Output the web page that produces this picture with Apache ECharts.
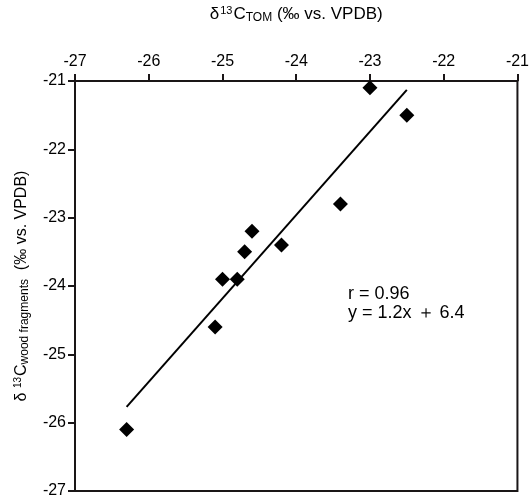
<!DOCTYPE html>
<html>
<head>
<meta charset="utf-8">
<script src="https://cdn.jsdelivr.net/npm/echarts@6/dist/echarts.min.js"></script>
<style>
  html, body { margin: 0; padding: 0; background: #fff; }
  #chart { width: 532px; height: 499px; }
</style>
</head>
<body>
<div id="chart"></div>
<script>
// δ13C TOM (x) vs δ13C wood fragments (y)
const tomValues  = [-23.0, -22.5, -23.4, -24.6, -24.2, -24.7, -25.0, -24.8, -25.1, -26.3];
const woodValues = [-21.1, -21.5, -22.8, -23.2, -23.4, -23.5, -23.9, -23.9, -24.6, -26.1];

// regression line as drawn (end points)
const fitX = [-26.3, -22.5];
const fitY = [-25.77, -21.13];

const axisMin = -27;
const axisMax = -21;
const statLines = ['r = 0.96', 'y = 1.2x \uFF0B 6.4'];

const FONT = '"Liberation Sans Narrow", "Liberation Sans", Arial, sans-serif';
const INK = '#1a1617';

const chart = echarts.init(document.getElementById('chart'), null, { renderer: 'canvas' });

const axisCommon = {
  type: 'value',
  min: axisMin,
  max: axisMax,
  interval: 1,
  splitLine: { show: false },
  axisLine: { show: true, onZero: false, lineStyle: { color: INK, width: 2 } },
  axisTick: { show: true, inside: false, length: 7, lineStyle: { color: INK, width: 2 } },
  axisLabel: { color: '#000', fontFamily: FONT, fontSize: 16 }
};

chart.setOption({
  animation: false,
  backgroundColor: '#fff',
  grid: {
    left: 75, right: 4, top: 77, bottom: 7,
    show: true, borderColor: INK, borderWidth: 2
  },
  xAxis: Object.assign({}, axisCommon, {
    position: 'top',
    axisLabel: Object.assign({}, axisCommon.axisLabel, { margin: 11 }),
    name: '{n|\u03B4}{sup|13}{n|C}{sub|TOM}{n| (\u2030 vs. VPDB)}',
    nameLocation: 'middle',
    nameGap: 57,
    nameTextStyle: {
      rich: {
        n: { fontFamily: FONT, fontSize: 17, color: '#000' },
        sup: { fontFamily: FONT, fontSize: 11, color: '#000', verticalAlign: 'top', padding: [0, 1, 8, 1] },
        sub: { fontFamily: FONT, fontSize: 12, color: '#000', verticalAlign: 'bottom' }
      }
    }
  }),
  yAxis: Object.assign({}, axisCommon, {
    axisLabel: Object.assign({}, axisCommon.axisLabel, { margin: 9 }),
    name: '{n|\u03B4 }{sup|13}{n|C}{sub|wood fragments}{n|  (\u2030 vs. VPDB)}',
    nameLocation: 'middle',
    nameGap: 44,
    nameRotate: 90,
    nameTextStyle: {
      rich: {
        n: { fontFamily: FONT, fontSize: 16, color: '#000' },
        sup: { fontFamily: FONT, fontSize: 10, color: '#000', verticalAlign: 'top', padding: [0, 1, 8, 0] },
        sub: { fontFamily: FONT, fontSize: 12, color: '#000', verticalAlign: 'bottom' }
      }
    }
  }),
  series: [
    {
      type: 'line',
      data: fitX.map((x, i) => [x, fitY[i]]),
      showSymbol: false,
      symbol: 'none',
      lineStyle: { color: '#000', width: 2 },
      silent: true,
      z: 2
    },
    {
      type: 'scatter',
      data: tomValues.map((x, i) => [x, woodValues[i]]),
      symbol: 'diamond',
      symbolSize: 15,
      itemStyle: { color: '#000', opacity: 1 },
      z: 3
    }
  ],
  graphic: [
    {
      type: 'text',
      left: 348,
      top: 285,
      style: {
        text: statLines.join('\n'),
        fontFamily: FONT,
        fontSize: 18,
        lineHeight: 19,
        fill: '#000'
      }
    }
  ]
});
</script>
</body>
</html>
